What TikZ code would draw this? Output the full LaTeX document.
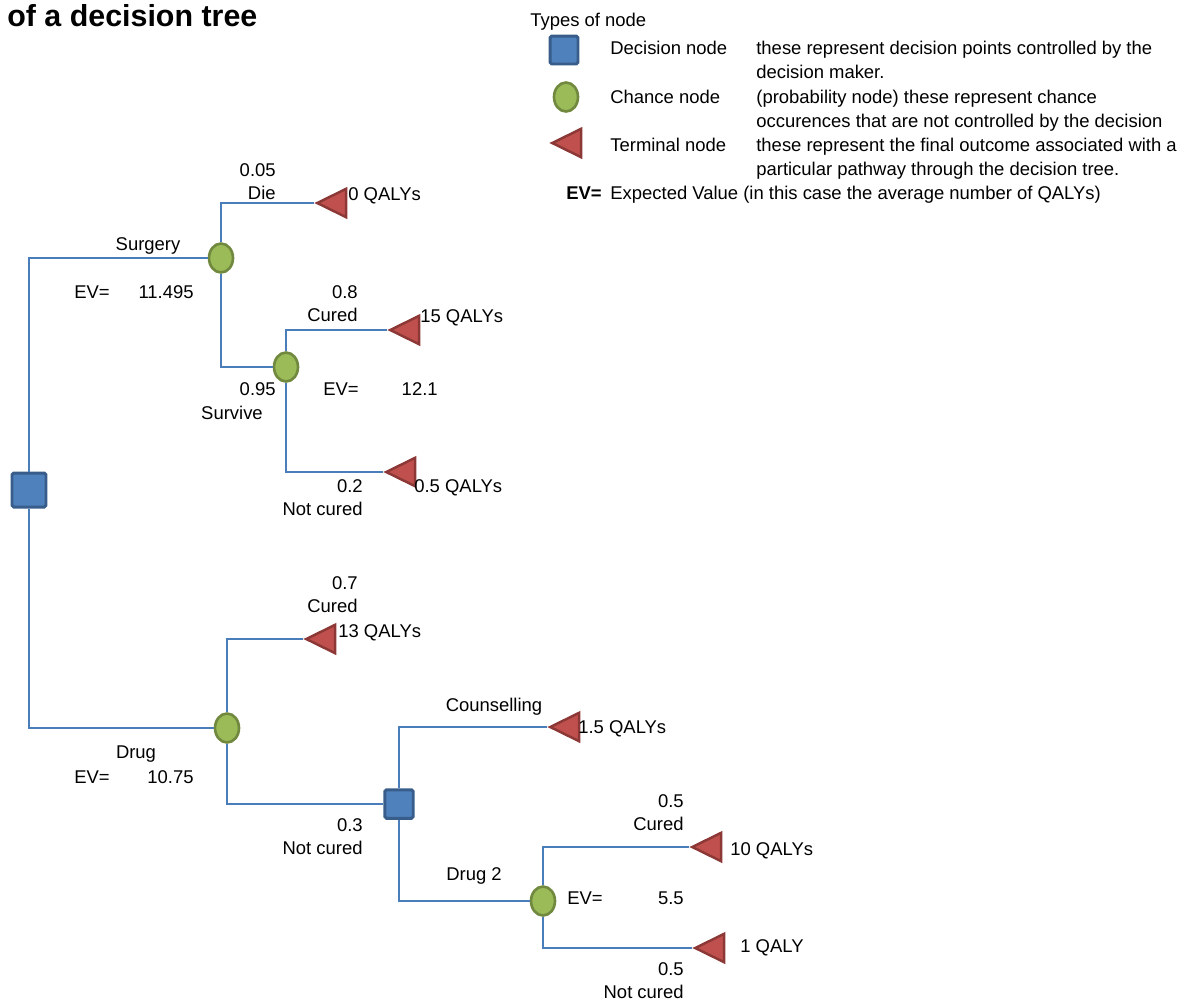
\documentclass[tikz,border=0pt]{standalone}
\usepackage{fontspec}
\setmainfont{Liberation Sans}
\usepackage{tikz}
\usetikzlibrary{positioning, shapes.geometric}

\definecolor{linkblue}{HTML}{4A7EBB}
\definecolor{decfill}{HTML}{4F81BD}
\definecolor{decdraw}{HTML}{385D8A}
\definecolor{chfill}{HTML}{9BBB59}
\definecolor{chdraw}{HTML}{71893F}
\definecolor{endfill}{HTML}{C0504D}
\definecolor{enddraw}{HTML}{8C3836}

\tikzset{
    decision/.style={rectangle, draw=decdraw, fill=decfill, line width=1.7pt, rounded corners=1pt, inner sep=0pt, minimum size=#1},
    decision/.default=0.57cm,
    chance/.style={ellipse, draw=chdraw, fill=chfill, line width=1.5pt, inner sep=0pt, minimum width=0.48cm, minimum height=0.58cm},
    terminal/.style={isosceles triangle, isosceles triangle stretches, shape border rotate=180, draw=enddraw, fill=endfill, line width=1.4pt, inner sep=0pt, minimum width=0.57cm, minimum height=0.58cm, anchor=apex},
    branch/.style={draw=linkblue, line width=0.7pt},
    lbl/.style={font=\fontsize{10.5}{12.6}\selectfont, inner sep=0pt},
}

\begin{document}
\begin{tikzpicture}[x=0.02cm, y=-0.02cm]
    \useasboundingbox (0,0) rectangle (1200,1002);

    % Title
    \node[inner sep=0pt, anchor=base west, font=\fontsize{17.3}{20}\selectfont\bfseries] (title) at (7,26) {of a decision tree};

    % Legend
    \node[lbl, anchor=base west] (legtitle) at (530,26) {Types of node};
    \node[decision=0.56cm] (legdec) at (564,50) {};
    \node[chance] (legch) at (566,97) {};
    \node[terminal] (legend) at (549,143) {};
    \foreach \n/\y/\t/\a/\b in {dec/54/Decision node/these represent decision points controlled by the/decision maker.,
                              ch/103/Chance node/(probability node) these represent chance/occurences that are not controlled by the decision,
                              end/151/Terminal node/these represent the final outcome associated with a/particular pathway through the decision tree.} {
      \node[lbl, anchor=base west] (name\n) at (610,\y) {\t};
      \node[lbl, anchor=base west] (desc\n) at (756,\y) {\a};
      \node[lbl, anchor=base west] (more\n) at (756,\y+24) {\b};
    }
    \node[lbl, anchor=base east, font=\fontsize{10.5}{12.6}\selectfont\bfseries] (legev) at (602,199) {EV=};
    \node[lbl, anchor=base west] (legevtext) at (610,199) {Expected Value (in this case the average number of QALYs)};

    % Decision and chance nodes
    \node[decision=0.68cm] (root) at (29,490) {};
    \node[decision] (dnext) at (399,804) {};
    \node[chance] (csurg) at (221,258) {};
    \node[chance] (csurv) at (286,367) {};
    \node[chance] (cdrug) at (227,728) {};
    \node[chance] (cdrugtwo) at (543,901) {};

    % Terminal nodes with their outcomes
    \foreach \n/\x/\y/\tx/\ty/\q in {tdie/314/203/348/200/0 QALYs, tcuredA/387/330/420/322/15 QALYs,
                                    tnotA/383/472/414/492/0.5 QALYs, tcuredB/303/639/338/637/13 QALYs,
                                    tcouns/547/727/578/733/1.5 QALYs, tcuredC/689/847/730/855/10 QALYs,
                                    tnotC/692/948/740/952/1 QALY} {
      \node[terminal] (\n) at (\x,\y) {};
      \node[lbl, anchor=base west] (q\n) at (\tx,\ty) {\q};
    }

    % Branches
    \draw[branch] (root) |- (csurg);
    \draw[branch] (root) |- (cdrug);
    \draw[branch] (csurg) |- (tdie.apex);
    \draw[branch] (csurg) |- (csurv);
    \draw[branch] (csurv) |- (tcuredA.apex);
    \draw[branch] (csurv) |- (tnotA.apex);
    \draw[branch] (cdrug) |- (tcuredB.apex);
    \draw[branch] (cdrug) |- (dnext);
    \draw[branch] (dnext) |- (tcouns.apex);
    \draw[branch] (dnext) |- (cdrugtwo);
    \draw[branch] (cdrugtwo) |- (tcuredC.apex);
    \draw[branch] (cdrugtwo) |- (tnotC.apex);

    % Probabilities and outcome names (right aligned)
    \foreach \n/\x/\y/\p/\t in {die/276/176/0.05/Die, curedA/358/298/0.8/Cured, notA/363/492/0.2/Not cured,
                               curedB/358/589/0.7/Cured, notB/363/831/0.3/Not cured,
                               curedC/684/807/0.5/Cured, notC/684/975/0.5/Not cured} {
      \node[lbl, anchor=base east] (p\n) at (\x,\y) {\p};
      \node[lbl, anchor=base east] (l\n) at (\x,\y+23) {\t};
    }
    \node[lbl, anchor=base east] (psurv) at (276,395) {0.95};
    \node[lbl, anchor=base] (lsurv) at (232,419) {Survive};

    % Choices
    \node[lbl, anchor=base] (lsurg) at (148,250) {Surgery};
    \node[lbl, anchor=base] (ldrug) at (136,758) {Drug};
    \node[lbl, anchor=base] (lcouns) at (494,711) {Counselling};
    \node[lbl, anchor=base] (ldrugtwo) at (474,880) {Drug 2};

    % Expected values
    \foreach \n/\x/\y/\v/\r in {surg/74/298/11.495/194, surv/323/395/12.1/438,
                               drug/74/783/10.75/194, drugtwo/567/904/5.5/684} {
      \node[lbl, anchor=base west] (ev\n) at (\x,\y) {EV=};
      \node[lbl, anchor=base east] (val\n) at (\r,\y) {\v};
    }

\end{tikzpicture}
\end{document}
